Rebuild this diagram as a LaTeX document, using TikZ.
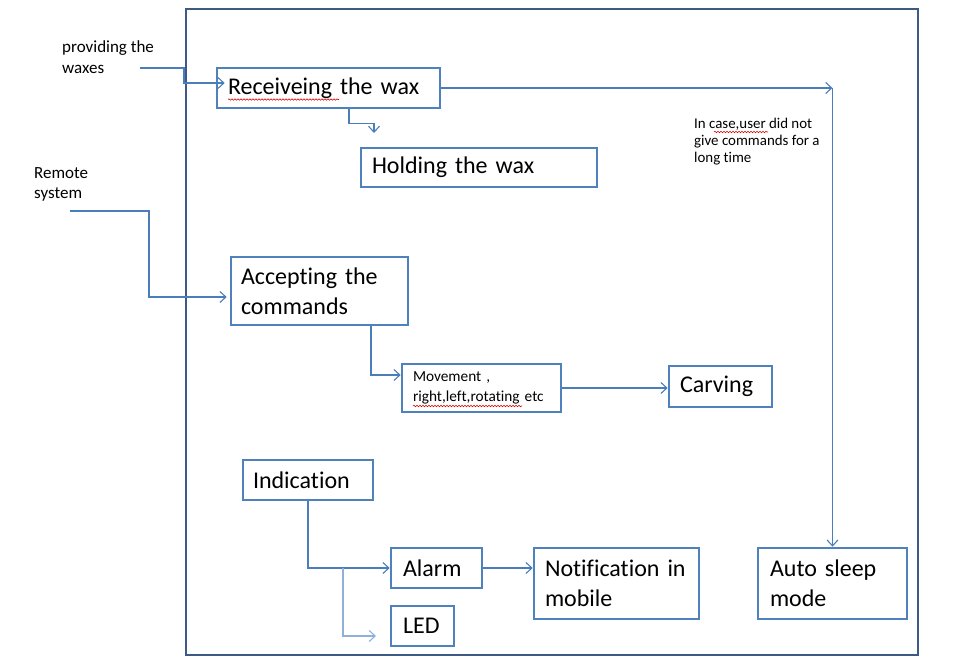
\documentclass[tikz,border=0pt]{standalone}
\usepackage{fontspec}
\setmainfont{Carlito}[Ligatures=NoCommon]
\usetikzlibrary{arrows.meta,calc,decorations.pathmorphing}
\definecolor{boxc}{HTML}{4F81BD}
\definecolor{linec}{HTML}{4A7EBB}
\definecolor{lightc}{HTML}{8EB0DA}
\definecolor{framec}{HTML}{3D5A85}
\tikzset{
  bx/.style={draw=boxc, line width=2.6pt, inner xsep=11pt, inner ysep=0pt, align=left,
    font=\fontsize{24}{30}\selectfont},
  smallbx/.style={bx, font=\fontsize{15.3}{20}\selectfont},
  lbl/.style={anchor=north west, inner sep=0pt, align=left},
  arr/.style={draw=linec, line width=1.1pt, -{Straight Barb[length=6pt,width=11pt]}},
  spell/.style={draw=red!85!black, line width=0.6pt, decorate,
    decoration={snake, amplitude=0.7pt, segment length=3pt}}
}
\begin{document}
\begin{tikzpicture}[x=1pt,y=-1pt]
\useasboundingbox (0,0) rectangle (954,672);
% outer frame
\draw[framec, line width=2.6pt] (186,9) rectangle (918,655);

% boxes
\node[bx, minimum width=223, minimum height=40, text width=201] (Receive) at (328.5,88) {\mbox{Receiveing the wax}};
\node[bx, minimum width=236, minimum height=39, text width=214] (Hold) at (479,167.5) {\mbox{Holding the wax}};
\node[bx, inner xsep=10pt, minimum width=177, minimum height=68, text width=157] (Accept) at (319.5,291) {\mbox{Accepting the}\\commands};
\node[smallbx, minimum width=159, minimum height=48, text width=137] (Move) at (481.5,388) {Movement ,\\\mbox{right,left,rotating etc}};
\node[bx, minimum width=103, minimum height=41, text width=81] (Carve) at (720.5,386.5) {Carving};
\node[bx, inner xsep=10pt, minimum width=130, minimum height=40, text width=110] (Ind) at (308,480) {Indication};
\node[bx, inner xsep=12pt, minimum width=91, minimum height=40, text width=67] (Alarm) at (436.5,568) {Alarm};
\node[bx, minimum width=165, minimum height=71, text width=143] (Note) at (616.5,583.5) {\mbox{Notification in}\\mobile};
\node[bx, inner xsep=12pt, minimum width=63, minimum height=40, text width=39] (LED) at (422.5,626) {\mbox{LED}};
\node[bx, inner xsep=12pt, minimum width=149, minimum height=71, text width=125] (Auto) at (832.5,583.5) {\mbox{Auto sleep}\\mode};

% free labels
\node[lbl, font=\fontsize{17}{21}\selectfont] (prov) at (62,40) {providing the\\waxes};
\node[lbl, font=\fontsize{17}{20}\selectfont] (remote) at (34,167) {Remote\\system};
\node[lbl, font=\fontsize{14.9}{17}\selectfont] (incase) at (694,118) {In case,user did not\\give commands for a\\long time};

% free ends
\coordinate (wIn) at (140,68);
\coordinate (rIn) at (70,211);
\coordinate (hTip) at (374,133);
\coordinate (ledTip) at (376,636);

% connectors
\draw[arr] (wIn) -- (184,68) |- ($(Receive.west)+(9,-5)$);
\draw[arr] ([xshift=20.5pt]Receive.south) -- ++(0,14) -| (hTip);
\draw[arr] (Receive.east) -- (Receive.east -| Auto.north) coordinate (corner);
\draw[arr] (corner) -- (Auto.north);
\draw[arr] (rIn) -- (149,211) |- ($(Accept.west)+(-3,6)$);
\draw[arr] ([xshift=51.5pt]Accept.south) |- ($(Move.west)+(0,-13)$);
\draw[arr] (Move.east) -- (Move.east -| Carve.west);
\draw[arr] (Ind.south) |- (Alarm.west);
\draw[arr, draw=lightc] ($(Ind.south |- Alarm.west)+(35,0)$) |- (ledTip);
\draw[arr] (Alarm.east) -- (Alarm.east -| Note.west);

% spell-check underlines
\draw[spell] (228,99.5) -- (339,99.5);
\draw[spell] (714,132) -- (768,132);
\draw[spell] (413,406) -- (522,406);
\end{tikzpicture}
\end{document}
